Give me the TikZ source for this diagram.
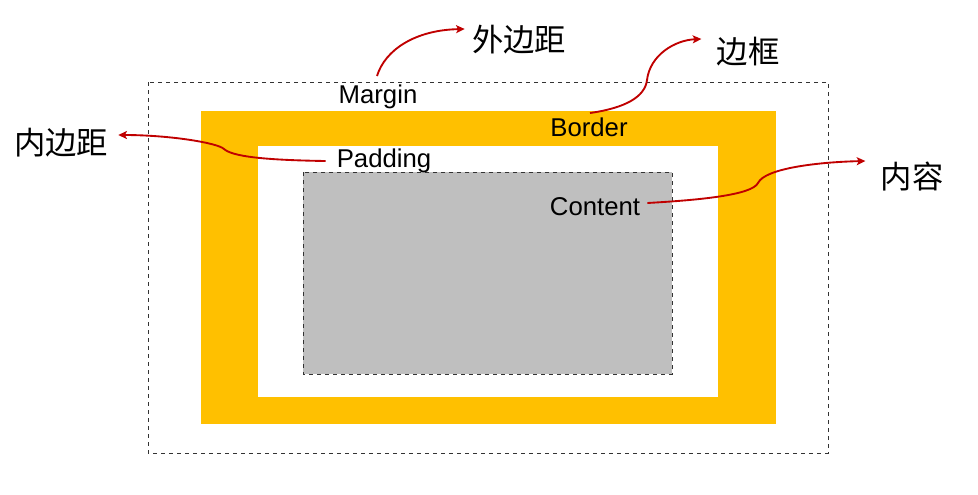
\documentclass[tikz,border=0pt]{standalone}
\usepackage{fontspec}
\setmainfont{Liberation Sans}
\newfontfamily\cjk{Noto Sans CJK SC}
\usepackage{tikz}
\usetikzlibrary{arrows.meta,positioning}
\usepackage{xcolor}
\definecolor{borderorange}{RGB}{255,192,0}
\definecolor{contentgray}{RGB}{191,191,191}
\definecolor{pointerred}{RGB}{192,0,0}

\begin{document}
\begin{tikzpicture}[
        x=0.75pt, y=-0.75pt,
        boxlabel/.style={font=\fontsize{19.3}{22}\selectfont, inner sep=0pt},
        cnlabel/.style={font=\cjk\fontsize{23.5}{27}\selectfont, inner sep=0pt},
        dashedbox/.style={draw=black!80, dashed, line width=0.7pt},
        pointer/.style={-{Stealth[length=6.5pt, width=6pt, inset=1.5pt]}, pointerred, line width=1.4pt}
    ]
    \useasboundingbox (0,0) rectangle (978,494);

    % box model layers
    \draw[dashedbox] (148,82) rectangle (828,453);
    \fill[borderorange] (201,111) rectangle (776,424);
    \fill[white] (258,146) rectangle (718,397);
    \draw[dashedbox, fill=contentgray] (303,172) rectangle (672,374);

    % labels inside the box
    \node (margin) [boxlabel] at (378,97) {Margin};
    \node (border) [boxlabel] at (589,127) {Border};
    \node (padding) [boxlabel] at (384,161) {Padding};
    \node (content) [boxlabel] at (595,207) {Content};

    % chinese labels
    \node (waibianju) [cnlabel] at (519,40) {外边距};
    \node (biankuang) [cnlabel] at (748,52) {边框};
    \node (neibianju) [cnlabel] at (61,143) {内边距};
    \node (neirong) [cnlabel] at (912,177) {内容};

    \draw[pointer] ([shift={(-1,-21)}]margin.center)
        .. controls (385,50) and (415,30) .. ([shift={(-7,-11)}]waibianju.west);
    \draw[pointer] ([shift={(1,-14)}]border.center)
        .. controls (625,108) and (645,97) .. (647,80)
        .. controls (650,55) and (675,40) .. ([shift={(-15,-13)}]biankuang.west);
    \draw[pointer] ([shift={(-11,0)}]padding.west)
        .. controls (260,160) and (232,156) .. (224,149)
        .. controls (218,143) and (170,135) .. ([shift={(10,-8)}]neibianju.east);
    \draw[pointer] ([shift={(7,-4)}]content.east)
        .. controls (700,200) and (752,195) .. (758,183)
        .. controls (765,168) and (820,162) .. ([shift={(-15,-16)}]neirong.west);
\end{tikzpicture}
\end{document}
